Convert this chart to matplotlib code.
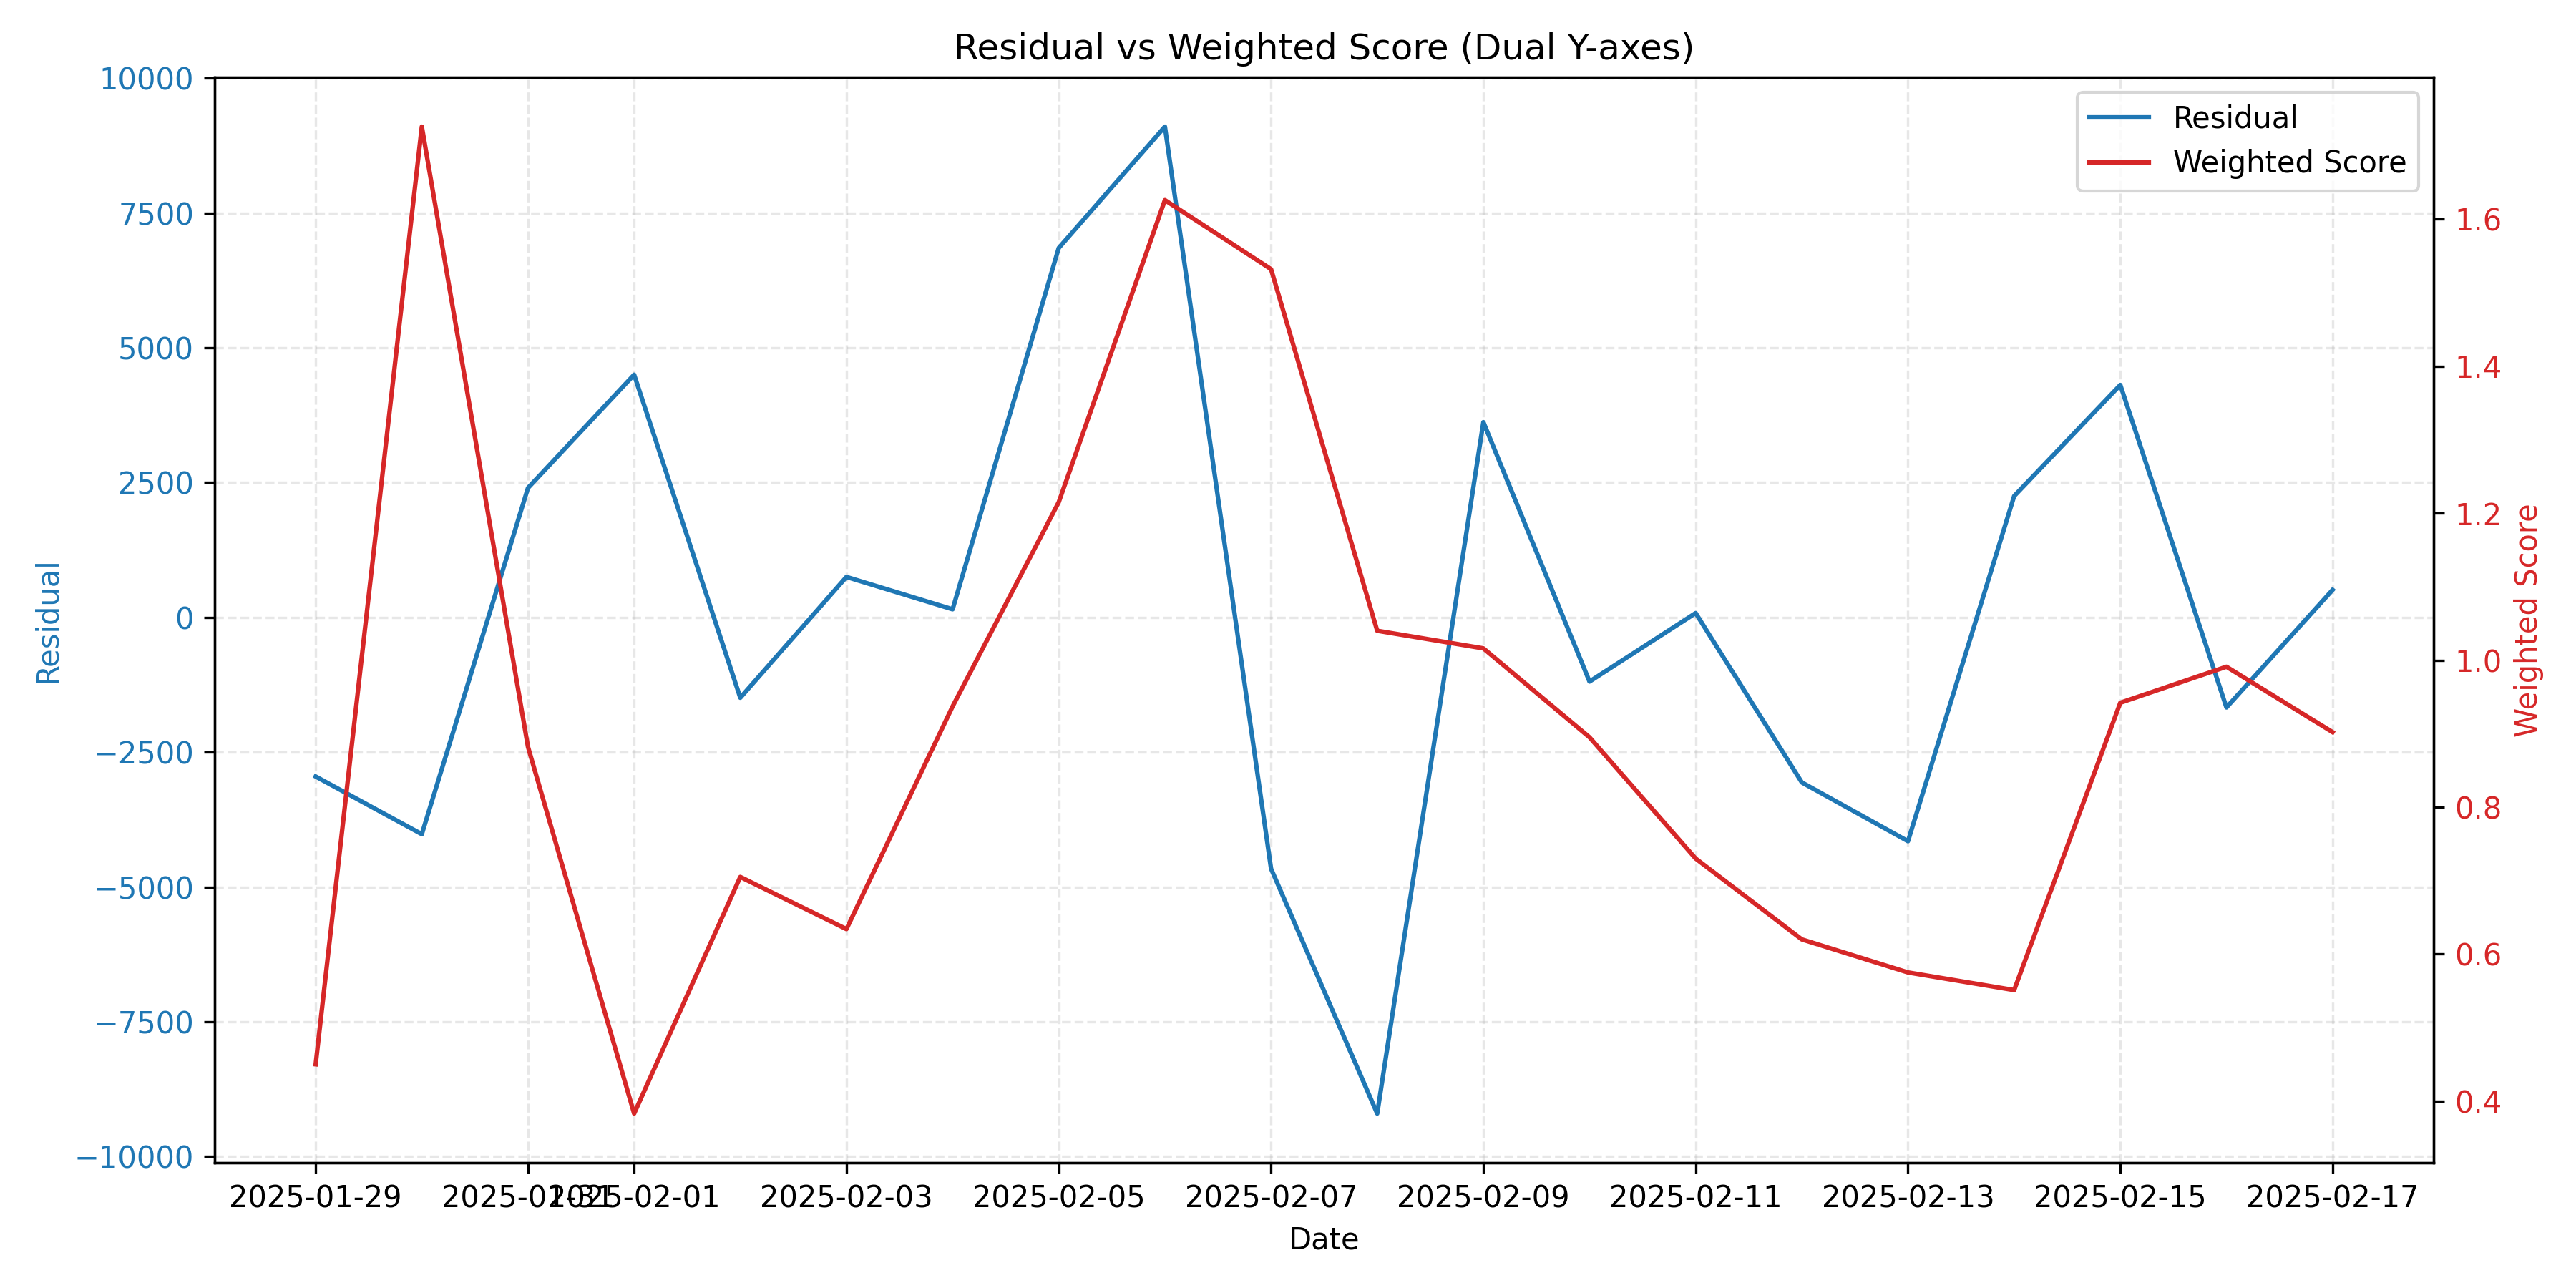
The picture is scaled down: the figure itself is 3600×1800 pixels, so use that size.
import matplotlib
matplotlib.use("Agg")
import matplotlib.pyplot as plt
import pandas as pd

dates = pd.date_range("2025-01-29", "2025-02-17", freq="D")
residual = [-2950, -4020, 2400, 4500, -1490, 750, 150, 6850, 9100, -4660,
            -9200, 3620, -1190, 80, -3060, -4150, 2250, 4310, -1670, 510]
weighted_score = [0.450, 1.726, 0.882, 0.383, 0.705, 0.634, 0.937, 1.215, 1.626, 1.532,
                  1.040, 1.016, 0.895, 0.730, 0.620, 0.575, 0.551, 0.942, 0.991, 0.902]

fig, ax1 = plt.subplots(figsize=(12, 6), dpi=300)
c1 = "tab:blue"
c2 = "tab:red"
l1, = ax1.plot(dates, residual, color=c1, label="Residual")
ax1.set_xlabel("Date")
ax1.set_ylabel("Residual", color=c1)
ax1.tick_params(axis="y", labelcolor=c1)
ax1.grid(True, linestyle="--", alpha=0.3)

ax2 = ax1.twinx()
l2, = ax2.plot(dates, weighted_score, color=c2, label="Weighted Score")
ax2.set_ylabel("Weighted Score", color=c2)
ax2.tick_params(axis="y", labelcolor=c2)

ax2.legend([l1, l2], [l1.get_label(), l2.get_label()], loc="upper right")
ax1.set_title("Residual vs Weighted Score (Dual Y-axes)")
fig.tight_layout()
fig.savefig("out.png")
